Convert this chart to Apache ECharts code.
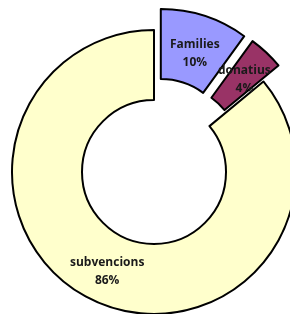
<!DOCTYPE html>
<html>
<head>
<meta charset="utf-8">
<script src="https://cdn.jsdelivr.net/npm/echarts@6/dist/echarts.min.js"></script>
<style>
  html, body { margin: 0; padding: 0; background: #fff; }
  #main { width: 290px; height: 314px; }
</style>
</head>
<body>
<div id="main"></div>
<script>
  const names = ['Families', 'donatius', 'subvencions']
  const values = [10, 4, 86]
  const colors = ['#9999FF', '#993366', '#FFFFCC']
  const exploded = [true, true, false]

  let myechart = echarts.init(document.getElementById('main'))
  let option = {
    animation: false,
    series: [{
      type: 'pie',
      center: [154, 172],
      radius: [72, 142],
      startAngle: 90,
      clockwise: true,
      avoidLabelOverlap: false,
      selectedMode: 'multiple',
      selectedOffset: 22,
      emphasis: { disabled: true },
      itemStyle: {
        borderColor: '#000',
        borderWidth: 2
      },
      label: {
        show: true,
        position: 'inside',
        formatter: '{b}\n{d}%',
        fontFamily: 'Open Sans',
        fontWeight: 'bold',
        fontSize: 12,
        lineHeight: 18,
        overflow: 'none',
        color: '#1a1a1a'
      },
      // nudge the labels of the exploded slices a bit
      labelLayout: function (p) {
        if (p.dataIndex === 0) return { dy: 7 }
        if (p.dataIndex === 1) return { dy: 4 }
        return {}
      },
      labelLine: { show: false },
      data: names.map((n, i) => ({
        name: n,
        value: values[i],
        selected: exploded[i],
        itemStyle: { color: colors[i] }
      }))
    }]
  }
  myechart.setOption(option)
</script>
</body>
</html>
